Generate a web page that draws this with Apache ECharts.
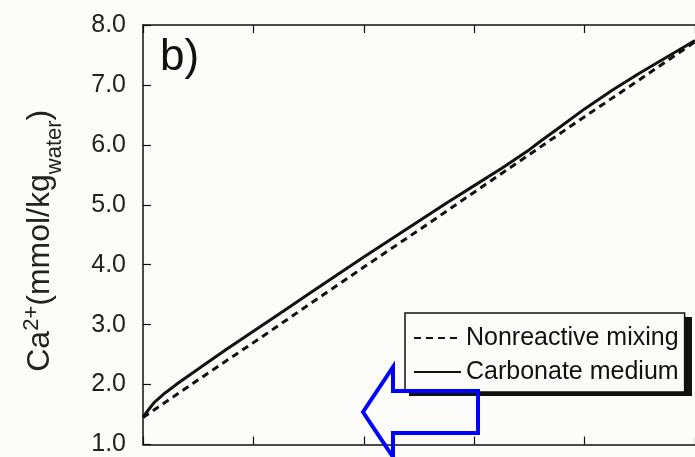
<!DOCTYPE html>
<html>
<head>
<meta charset="utf-8">
<script src="https://cdn.jsdelivr.net/npm/echarts@6/dist/echarts.min.js"></script>
<style>
  html, body { margin: 0; padding: 0; background: #fcfcfa; }
  #chart { width: 695px; height: 457px; }
</style>
</head>
<body>
<div id="chart"></div>
<script>
// mixing fraction (x) and Ca2+ values
var mixX = [0, 0.1, 0.2, 0.3, 0.4, 0.5, 0.6, 0.7, 0.8, 0.9, 1.0];
var nonreactive = [1.45, 2.08, 2.70, 3.33, 3.96, 4.58, 5.21, 5.84, 6.47, 7.09, 7.72];

var carbX = [0, 0.01, 0.02, 0.04, 0.06, 0.08, 0.10, 0.15, 0.20, 0.25, 0.30, 0.35, 0.40,
             0.45, 0.50, 0.55, 0.60, 0.65, 0.70, 0.72, 0.75, 0.80, 0.85, 0.90, 0.95, 1.0];
var carbonate = [1.46, 1.58, 1.70, 1.86, 2.00, 2.13, 2.26, 2.58, 2.89, 3.20, 3.51, 3.82, 4.13,
                 4.43, 4.73, 5.03, 5.32, 5.61, 5.92, 6.06, 6.26, 6.60, 6.91, 7.20, 7.47, 7.74];

var yTicks = [1, 2, 3, 4, 5, 6, 7, 8];

function pairs(xs, ys) {
    return xs.map(function (x, i) { return [x, ys[i]]; });
}

var chart = echarts.init(document.getElementById('chart'));
var font = '"Liberation Sans", Arial, sans-serif';

chart.setOption({
    backgroundColor: '#fcfcfa',
    animation: false,
    title: {
        text: 'b)',
        left: 155,
        top: 31,
        textStyle: { fontFamily: font, fontSize: 44, fontWeight: 'normal', color: '#111' }
    },
    grid: { left: 143, top: 25, right: -13, bottom: 9 },
    legend: {
        orient: 'vertical',
        left: 405,
        top: 313,
        z: 10,
        padding: [10, 6, 5, 8],
        itemGap: 4,
        itemWidth: 47,
        itemHeight: 14,
        backgroundColor: '#fcfcfa',
        borderColor: '#111',
        borderWidth: 1.5,
        itemStyle: { opacity: 0 },
        lineStyle: { width: 2 },
        textStyle: {
            fontFamily: font,
            fontSize: 25,
            lineHeight: 30,
            color: '#111'
        },
        data: ['Nonreactive mixing', 'Carbonate medium']
    },
    xAxis: [
        {
            type: 'value', min: 0, max: 1, interval: 0.2,
            axisLine: { lineStyle: { color: '#111', width: 1.5 } },
            axisTick: { inside: true, length: 8, lineStyle: { color: '#111', width: 1.2 } },
            axisLabel: { show: false },
            splitLine: { show: false }
        },
        {
            type: 'value', position: 'top', min: 0, max: 1, interval: 0.2,
            axisLine: { lineStyle: { color: '#111', width: 1.5 } },
            axisTick: { inside: true, length: 8, lineStyle: { color: '#111', width: 1.2 } },
            axisLabel: { show: false },
            splitLine: { show: false }
        }
    ],
    yAxis: {
        type: 'value',
        min: yTicks[0],
        max: yTicks[yTicks.length - 1],
        interval: 1,
        axisLine: { lineStyle: { color: '#111', width: 1.5 } },
        axisTick: { inside: true, length: 8, lineStyle: { color: '#111', width: 1.2 } },
        axisLabel: {
            margin: 17,
            fontFamily: font,
            fontSize: 25,
            color: '#222',
            formatter: function (v) { return v.toFixed(1); }
        },
        splitLine: { show: false },
        name: '{m|Ca}{sup|2+}{m|(mmol/kg}{sub|water}{m|)}',
        nameLocation: 'middle',
        nameRotate: 90,
        nameGap: 84,
        nameTextStyle: {
            fontFamily: font,
            color: '#222',
            padding: [0, 12, 0, 0],
            rich: {
                m: { fontFamily: font, fontSize: 32, lineHeight: 38, color: '#222', verticalAlign: 'middle' },
                sup: { fontFamily: font, fontSize: 22, color: '#222', verticalAlign: 'top' },
                sub: { fontFamily: font, fontSize: 22, color: '#222', verticalAlign: 'bottom', padding: [0, 0, -7, 0] }
            }
        }
    },
    series: [
        {
            name: 'Nonreactive mixing',
            type: 'line',
            symbol: 'none',
            data: pairs(mixX, nonreactive),
            lineStyle: { color: '#111', width: 3, type: [7, 5] },
            itemStyle: { color: '#111' }
        },
        {
            name: 'Carbonate medium',
            type: 'line',
            symbol: 'none',
            data: pairs(carbX, carbonate),
            lineStyle: { color: '#111', width: 3 },
            itemStyle: { color: '#111' }
        }
    ],
    graphic: [
        {
            // legend drop shadow
            type: 'rect',
            z: 5,
            shape: { x: 409, y: 317, width: 283, height: 79 },
            style: { fill: '#111' }
        },
        {
            type: 'polygon',
            z: 100,
            shape: {
                points: [[363, 412], [393, 367], [393, 391], [478, 391], [478, 433], [393, 433], [393, 457]]
            },
            style: { fill: 'none', stroke: '#0000ff', lineWidth: 4, lineJoin: 'miter' }
        }
    ]
});
</script>
</body>
</html>
